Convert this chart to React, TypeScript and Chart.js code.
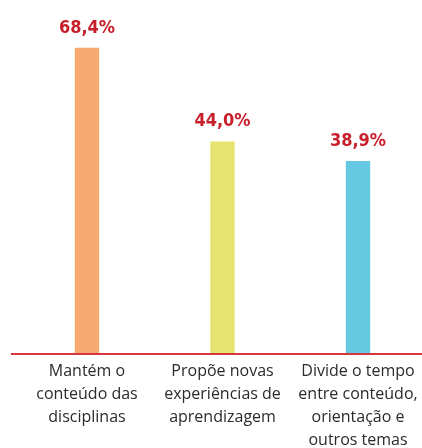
import React, { useEffect, useRef } from "react";
import { Chart, registerables } from "chart.js";

Chart.register(...registerables);

const categories: string[][] = [
  ["Mantém o", "conteúdo das", "disciplinas"],
  ["Propõe novas", "experiências de", "aprendizagem"],
  ["Divide o tempo", "entre conteúdo,", "orientação e", "outros temas"],
];
const values: number[] = [68.4, 44.0, 38.9];
const valueLabels: string[] = ["68,4%", "44,0%", "38,9%"];
const barColors: string[] = ["#F7A96F", "#E6E36F", "#66C9E2"];

const Y_MIN = -11.3;
const Y_MAX = 80.8;

const valueLabelPlugin = {
  id: "valueLabels",
  afterDatasetsDraw(chart: any) {
    const ctx = chart.ctx;
    const meta = chart.getDatasetMeta(0);
    ctx.save();
    ctx.fillStyle = "#C8202B";
    ctx.font = "bold 18px 'Liberation Sans Narrow', 'DejaVu Sans Condensed', sans-serif";
    ctx.textAlign = "center";
    ctx.textBaseline = "alphabetic";
    meta.data.forEach((bar: any, i: number) => {
      ctx.fillText(valueLabels[i], bar.x, bar.y - 15);
    });
    ctx.restore();
  },
};

const axisLinePlugin = {
  id: "axisLine",
  afterDatasetsDraw(chart: any) {
    const ctx = chart.ctx;
    const y = chart.scales.y.getPixelForValue(Y_MIN);
    ctx.save();
    ctx.strokeStyle = "#D6373F";
    ctx.lineWidth = 2;
    ctx.beginPath();
    ctx.moveTo(11, y);
    ctx.lineTo(chart.width, y);
    ctx.stroke();
    ctx.restore();
  },
};

export default function App() {
  const ref = useRef<HTMLCanvasElement | null>(null);

  useEffect(() => {
    if (!ref.current) return;
    const chart = new Chart(ref.current, {
      type: "bar",
      data: {
        labels: categories,
        datasets: [
          {
            data: values,
            backgroundColor: barColors,
            borderWidth: 0,
            base: Y_MIN,
            barPercentage: 0.18,
            categoryPercentage: 1,
          } as any,
        ],
      },
      options: {
        animation: false,
        responsive: true,
        maintainAspectRatio: false,
        layout: { padding: { left: 19.25, right: 4.25, top: 0, bottom: 0 } },
        plugins: {
          legend: { display: false },
          tooltip: { enabled: false },
        },
        scales: {
          x: {
            grid: { display: false, drawTicks: false },
            border: { display: false },
            ticks: {
              padding: 6,
              maxRotation: 0,
              autoSkip: false,
              color: "#2b2b2b",
              font: { family: "'Open Sans', sans-serif", size: 16, lineHeight: "23px" as any },
            },
            afterFit(scale: any) {
              scale.height = 94;
            },
          },
          y: {
            display: false,
            min: Y_MIN,
            max: Y_MAX,
          },
        },
      },
      plugins: [valueLabelPlugin, axisLinePlugin],
    });
    return () => chart.destroy();
  }, []);

  return (
    <div
      style={{
        position: "fixed",
        left: 0,
        top: 0,
        width: 422,
        height: 448,
        overflow: "hidden",
        background: "#ffffff",
      }}
    >
      <div style={{ position: "relative", width: 430, height: 448 }}>
        <canvas ref={ref} />
      </div>
    </div>
  );
}
